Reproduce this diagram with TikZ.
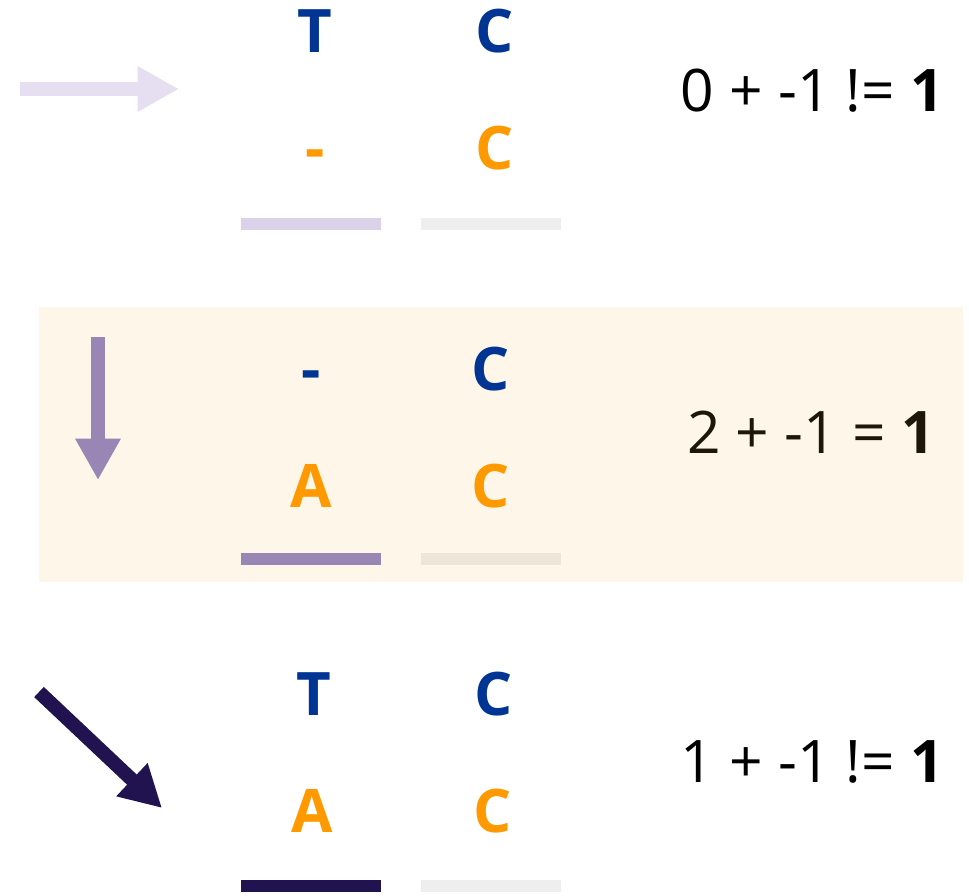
\documentclass[tikz,border=0pt]{standalone}
\usepackage{fontspec}
\setmainfont{Open Sans}
\usetikzlibrary{arrows.meta}

\definecolor{seqblue}{HTML}{003594}
\definecolor{seqorange}{HTML}{FF9900}
\definecolor{lilac}{HTML}{E6DFF2}
\definecolor{lilacbar}{HTML}{DAD2E9}
\definecolor{mauve}{HTML}{9A86B4}
\definecolor{navy}{HTML}{21134F}
\definecolor{greybar}{HTML}{EEEEEE}
\definecolor{cream}{HTML}{FEF6E9}
\definecolor{creambar}{HTML}{EFE6DA}
\definecolor{ink}{HTML}{1E1608}

\begin{document}
\begin{tikzpicture}[x=0.75pt, y=-0.75pt,
      letter/.style = {font=\fontsize{45}{45}\selectfont\bfseries,
        anchor=base, inner sep=0pt},
      upper/.style = {letter, text=seqblue},
      lower/.style = {letter, text=seqorange},
      score/.style = {font=\fontsize{44}{44}\selectfont,
        anchor=base east, inner sep=0pt},
      move/.style = {line width=10pt,
        -{Triangle[length=31pt, width=32pt]}}]
  \useasboundingbox (0,0) rectangle (969,895);
  \fill[cream] (39,307) rectangle (963,582);

  % gap in the bottom sequence
  \coordinate (from1) at (20,89);
  \coordinate (to1) at (179,89);
  \draw[move, lilac] (from1) -- (to1);
  \node[upper] (t1) at (315,53) {T};
  \node[upper] (c1) at (495,53) {C};
  \node[lower] (g1) at (315,169) {-};
  \node[lower] (d1) at (495,169) {C};
  \fill[lilacbar] (241,218) rectangle (381,230);
  \fill[greybar] (421,218) rectangle (561,230);
  \node[score] (s1) at (944,112) {0 + -1 != \textbf{1}};

  % gap in the top sequence
  \coordinate (from2) at (98,337);
  \coordinate (to2) at (98,480);
  \draw[move, mauve] (from2) -- (to2);
  \node[upper] (g2) at (311,390) {-};
  \node[upper] (c2) at (491,390) {C};
  \node[lower] (a2) at (311,507) {A};
  \node[lower] (d2) at (491,507) {C};
  \fill[mauve] (241,553) rectangle (381,565);
  \fill[creambar] (421,553) rectangle (561,565);
  \node[score, text=ink] (s2) at (935,453) {2 + -1 = \textbf{1}};

  % match / mismatch
  \coordinate (from3) at (39,692);
  \coordinate (to3) at (162,808);
  \draw[move, navy, line width=10.5pt] (from3) -- (to3);
  \node[upper] (t3) at (314,715) {T};
  \node[upper] (c3) at (494,715) {C};
  \node[lower] (a3) at (312,832) {A};
  \node[lower] (d3) at (493,832) {C};
  \fill[navy] (241,880) rectangle (381,892);
  \fill[greybar] (421,880) rectangle (561,892);
  \node[score] (s3) at (944,782) {1 + -1 != \textbf{1}};
\end{tikzpicture}
\end{document}
